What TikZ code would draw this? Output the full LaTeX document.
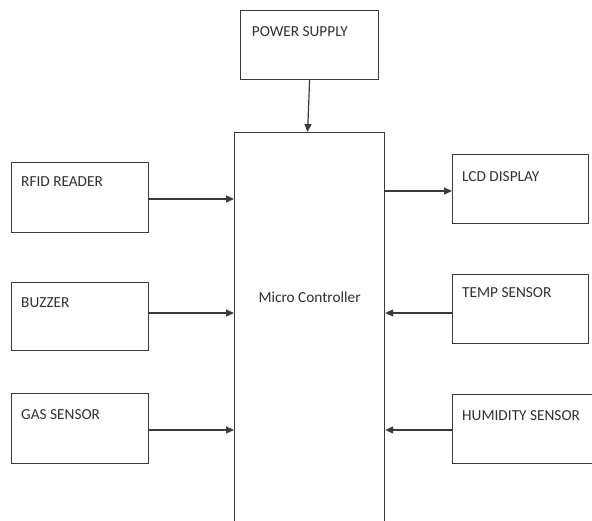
\documentclass[tikz,border=0pt]{standalone}
\usepackage{fontspec}
\setmainfont{Carlito}
\usetikzlibrary{arrows.meta}
\definecolor{ln}{HTML}{3A3A3A}
\definecolor{tx}{HTML}{303030}
\tikzset{
  box/.style={draw=ln, line width=1.2pt, rectangle, inner sep=0pt, anchor=north west},
  lbl/.style={text=tx, font=\fontsize{15.3}{18}\selectfont, inner sep=0pt, anchor=west},
  arr/.style={draw=ln, line width=1.2pt, -{Triangle[length=8pt,width=7pt]}}
}
\begin{document}
\begin{tikzpicture}[x=1pt,y=-1pt]
\useasboundingbox (0,0) rectangle (592,520);
\clip (0,0) rectangle (592,520);
\node[box, minimum width=138pt, minimum height=69pt,
  label={[lbl, xshift=11.7pt, yshift=-21.7pt]north west:POWER SUPPLY}] (ps) at (240,10) {};
\node[box, minimum width=150pt, minimum height=400pt,
  label={[lbl, anchor=center, yshift=-165pt]north:Micro Controller}] (mc) at (234,132) {};
\node[box, minimum width=137pt, minimum height=70pt,
  label={[lbl, xshift=10pt, yshift=-20pt]north west:RFID READER}] (rfid) at (11,162) {};
\node[box, minimum width=137pt, minimum height=68pt,
  label={[lbl, xshift=10pt, yshift=-21pt]north west:BUZZER}] (buz) at (11,282) {};
\node[box, minimum width=137pt, minimum height=70pt,
  label={[lbl, xshift=10pt, yshift=-21.7pt]north west:GAS SENSOR}] (gas) at (11,393) {};
\node[box, minimum width=136pt, minimum height=69pt,
  label={[lbl, xshift=10pt, yshift=-22.4pt]north west:LCD DISPLAY}] (lcd) at (452,154) {};
\node[box, minimum width=136pt, minimum height=69pt,
  label={[lbl, xshift=10pt, yshift=-18.7pt]north west:TEMP SENSOR}] (temp) at (452,274) {};
\node[box, minimum width=145pt, minimum height=69pt,
  label={[lbl, xshift=10pt, yshift=-21.7pt]north west:HUMIDITY SENSOR}] (hum) at (452,394) {};
\draw[arr] (ps.south) -- ([xshift=-2pt]mc.north);
\draw[arr] (rfid.east |- 0,199) -- (mc.west |- 0,199);
\draw[arr] (buz.east |- 0,313) -- (mc.west |- 0,313);
\draw[arr] (gas.east |- 0,430) -- (mc.west |- 0,430);
\draw[arr] (mc.east |- 0,191) -- (lcd.west |- 0,191);
\draw[arr] (temp.west |- 0,313) -- (mc.east |- 0,313);
\draw[arr] (hum.west |- 0,430) -- (mc.east |- 0,430);
\end{tikzpicture}
\end{document}
